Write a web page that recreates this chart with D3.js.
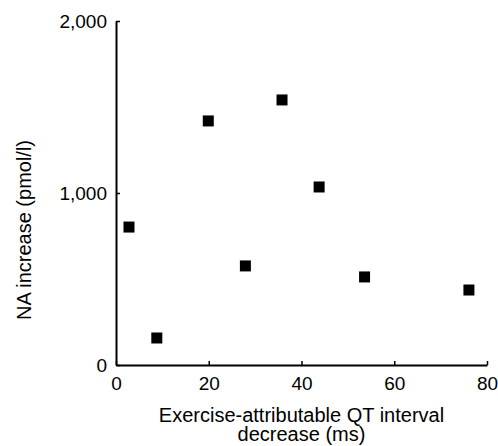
<!DOCTYPE html>
<html>
<head>
<meta charset="utf-8">
<script src="https://cdn.jsdelivr.net/npm/d3@7"></script>
<style>
  body { margin: 0; background: #fff; }
  text { font-family: "Liberation Sans", Arial, sans-serif; fill: #000; }
</style>
</head>
<body>
<div class="canvas"></div>
<script>
// data
const qtDecrease = [2.8, 8.8, 19.9, 27.9, 35.8, 43.8, 53.6, 76.1];
const naIncrease = [802, 157, 1419, 576, 1541, 1035, 512, 436];
const xTicks = [0, 20, 40, 60, 80];
const yTicks = [0, 1000, 2000];
const xTitle = ['Exercise-attributable QT interval', 'decrease (ms)'];
const yTitle = 'NA increase (pmol/l)';

const canvasWidth = 498;
const canvasHeight = 446;
const margins = { top: 21, right: 11, bottom: 81, left: 116 };
const graphWidth = canvasWidth - margins.left - margins.right;
const graphHeight = canvasHeight - margins.top - margins.bottom;

const svg = d3
  .select('.canvas')
  .append('svg')
  .attr('width', canvasWidth)
  .attr('height', canvasHeight);

const graph = svg
  .append('g')
  .attr('transform', `translate(${margins.left}, ${margins.top})`);

// Scales
const x = d3.scaleLinear().domain([0, 80]).range([0, graphWidth]);
const y = d3.scaleLinear().domain([0, 2000]).range([graphHeight, 0]);

// Axes
const xAxis = d3
  .axisBottom(x)
  .tickValues(xTicks)
  .tickSizeInner(-4)
  .tickSizeOuter(0)
  .tickPadding(12)
  .tickFormat(d3.format('d'));
const yAxis = d3
  .axisLeft(y)
  .tickValues(yTicks)
  .tickSizeInner(-4)
  .tickSizeOuter(0)
  .tickPadding(9)
  .tickFormat(d3.format(','));

const xAxisGroup = graph
  .append('g')
  .attr('class', 'x-axis')
  .attr('transform', `translate(0, ${graphHeight})`)
  .call(xAxis);
const yAxisGroup = graph.append('g').attr('class', 'y-axis').call(yAxis);

[xAxisGroup, yAxisGroup].forEach(g => {
  g.select('.domain').attr('stroke', '#000').attr('stroke-width', 2);
  g.selectAll('.tick line').attr('stroke', '#000').attr('stroke-width', 1.5);
  g.selectAll('text')
    .attr('font-family', '"Liberation Sans", Arial, sans-serif')
    .attr('font-size', 19)
    .attr('fill', '#000');
});

// points
const size = 11;
graph
  .selectAll('rect.pt')
  .data(qtDecrease)
  .enter()
  .append('rect')
  .attr('class', 'pt')
  .attr('x', (d, i) => x(d) - size / 2)
  .attr('y', (d, i) => y(naIncrease[i]) - size / 2)
  .attr('width', size)
  .attr('height', size)
  .attr('fill', '#000');

// axis titles
svg
  .append('text')
  .attr('text-anchor', 'middle')
  .attr('font-size', 20)
  .selectAll('tspan')
  .data(xTitle)
  .enter()
  .append('tspan')
  .attr('x', margins.left + graphWidth / 2)
  .attr('y', (d, i) => 422 + i * 19)
  .text(d => d);

svg
  .append('text')
  .attr('text-anchor', 'middle')
  .attr('font-size', 20)
  .attr('transform', 'translate(31, 230) rotate(-90)')
  .text(yTitle);
</script>
</body>
</html>
